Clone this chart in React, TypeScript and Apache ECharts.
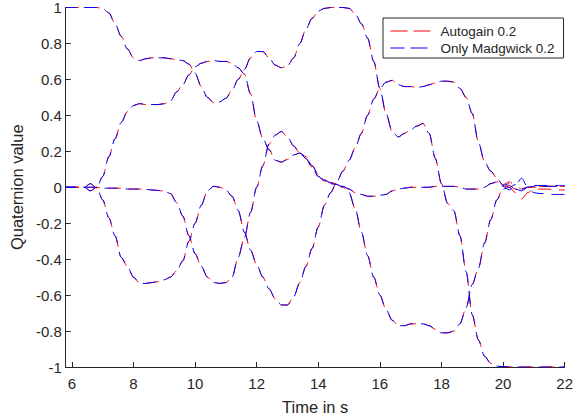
import React, { useEffect, useRef } from 'react';
import * as echarts from 'echarts';

// sample times (s), shared part and tail part
const timeHead = [
  5.8, 6.0, 6.2, 6.4, 6.6, 6.8, 7.0, 7.2, 7.4, 7.6,
  7.8, 8.0, 8.2, 8.4, 8.6, 8.8, 9.0, 9.2, 9.4, 9.6,
  9.8, 10.0, 10.2, 10.4, 10.6, 10.8, 11.0, 11.2, 11.4, 11.6,
  11.8, 12.0, 12.2, 12.4, 12.6, 12.8, 13.0, 13.2, 13.4, 13.6,
  13.8, 14.0, 14.2, 14.4, 14.6, 14.8, 15.0, 15.2, 15.4, 15.6,
  15.8, 16.0, 16.2, 16.4, 16.6, 16.8, 17.0, 17.2, 17.4, 17.6,
  17.8, 18.0, 18.2, 18.4, 18.6, 18.8, 19.0, 19.2, 19.4, 19.6,
];
const timeTail = [19.8, 20.0, 20.2, 20.4, 20.6, 20.8, 21.0, 21.2, 21.4, 21.6, 21.8, 22.0];

// quaternion components (common part of both filters)
const qA = [
  1, 1, 1, 1, 1, 1, 0.995, 0.97, 0.91, 0.84,
  0.77, 0.72, 0.705, 0.715, 0.72, 0.72, 0.72, 0.715, 0.71, 0.705,
  0.685, 0.635, 0.56, 0.5, 0.47, 0.475, 0.495, 0.54, 0.6, 0.655,
  0.72, 0.755, 0.755, 0.72, 0.68, 0.665, 0.675, 0.72, 0.8, 0.88,
  0.94, 0.98, 0.995, 1, 1, 1, 0.995, 0.965, 0.91, 0.83,
  0.7, 0.55, 0.41, 0.31, 0.28, 0.3, 0.32, 0.34, 0.355, 0.3,
  0.16, 0.02, -0.09, -0.13, -0.27, -0.47, -0.71, -0.85, -0.94, -0.98,
];
const qB = [
  0, 0, 0, 0, 0.02, -0.005, 0.06, 0.17, 0.27, 0.36,
  0.42, 0.455, 0.465, 0.46, 0.46, 0.46, 0.465, 0.48, 0.53, 0.57,
  0.625, 0.67, 0.69, 0.7, 0.705, 0.7, 0.7, 0.69, 0.665, 0.63,
  0.52, 0.37, 0.27, 0.21, 0.15, 0.14, 0.155, 0.18, 0.19, 0.17,
  0.12, 0.07, 0.04, 0.025, 0.02, 0.005, -0.01, -0.03, -0.04, -0.05,
  -0.05, -0.045, -0.04, -0.02, -0.01, -0.005, 0, 0, 0, 0,
  0.005, 0.005, 0.005, 0.005, 0, -0.01, -0.01, -0.01, 0, 0.02,
];
const qC = [
  0, 0, 0, 0, -0.02, 0, -0.07, -0.17, -0.27, -0.39,
  -0.44, -0.5, -0.535, -0.535, -0.53, -0.525, -0.515, -0.5, -0.465, -0.41,
  -0.3, -0.2, -0.1, -0.02, 0.005, 0, -0.015, -0.05, -0.13, -0.25,
  -0.35, -0.43, -0.5, -0.565, -0.62, -0.655, -0.655, -0.61, -0.53, -0.44,
  -0.34, -0.22, -0.1, -0.03, 0.03, 0.09, 0.15, 0.22, 0.3, 0.4,
  0.49, 0.55, 0.585, 0.595, 0.57, 0.56, 0.56, 0.555, 0.56, 0.57,
  0.58, 0.59, 0.59, 0.585, 0.55, 0.5, 0.41, 0.25, 0.14, 0.09,
];
const qD = [
  0, 0, 0, 0, 0, 0, -0.005, -0.005, -0.005, -0.005,
  -0.01, -0.01, -0.01, -0.012, -0.015, -0.018, -0.022, -0.035, -0.085, -0.16,
  -0.27, -0.37, -0.44, -0.5, -0.53, -0.535, -0.53, -0.5, -0.39, -0.28,
  -0.14, 0, 0.12, 0.24, 0.29, 0.31, 0.28, 0.23, 0.19, 0.16,
  0.11, 0.06, 0.035, 0.02, 0.015, 0, -0.03, -0.12, -0.25, -0.38,
  -0.5, -0.6, -0.68, -0.74, -0.77, -0.77, -0.76, -0.76, -0.76, -0.77,
  -0.79, -0.81, -0.81, -0.8, -0.76, -0.67, -0.54, -0.45, -0.31, -0.18,
];

// tails where the two filters differ
const aTailRed = [-0.995, -0.998, -1, -1, -1, -1, -1, -1, -1, -1, -1, -1];
const aTailBlue = [-0.995, -0.998, -1, -1, -1, -1, -1, -1, -1, -1, -1, -1];
const bTailRed = [0.03, 0.02, 0, -0.03, -0.065, -0.03, -0.01, -0.01, -0.01, -0.012, -0.015, -0.015];
const bTailBlue = [0.03, 0.005, -0.015, 0.01, 0.05, 0, -0.03, -0.035, -0.035, -0.04, -0.04, -0.04];
const cTailRed = [0.05, 0.015, 0.03, 0.01, -0.01, 0, 0.005, 0.005, 0.005, 0.005, 0.005, 0.005];
const cTailBlue = [0.05, 0.01, 0.02, -0.01, -0.02, 0, 0.01, 0.01, 0.01, 0.01, 0.01, 0.01];
const dTailRed = [-0.07, 0, 0.01, -0.01, -0.02, 0, 0, 0.005, 0.005, 0.005, 0.005, 0.005];
const dTailBlue = [-0.07, -0.01, 0, 0.015, -0.01, 0, 0.005, 0.005, 0.005, 0.005, 0.005, 0.005];

const xTicks = [6, 8, 10, 12, 14, 16, 18, 20, 22];
const seriesNames = ['Autogain 0.2', 'Only Madgwick 0.2'];

const TEXT = '#262626';
const FONT = '"Liberation Sans", Arial, Helvetica, sans-serif';

function toPairs(head: number[], tail: number[]) {
  const times = timeHead.concat(timeTail);
  const vals = head.concat(tail);
  return times.map((t, i) => [t, vals[i]]);
}

export default function App() {
  const ref = useRef<HTMLDivElement>(null);
  useEffect(() => {
    if (!ref.current) return;
    const chart = echarts.init(ref.current, undefined, { renderer: 'svg' });
    const mk = (name: string, color: string, data: number[][], offset: number) => ({
      type: 'line',
      name,
      data,
      symbol: 'none',
      smooth: 0.3,
      smoothMonotone: 'x',
      silent: true,
      itemStyle: { color },
      lineStyle: { color, width: 1, type: [13, 8], dashOffset: offset },
    });
    const red = '#ff0000';
    const blue = '#0000ff';
    const series = [
      mk(seriesNames[0], red, toPairs(qA, aTailRed), 0),
      mk(seriesNames[0], red, toPairs(qB, bTailRed), 0),
      mk(seriesNames[0], red, toPairs(qC, cTailRed), 0),
      mk(seriesNames[0], red, toPairs(qD, dTailRed), 0),
      mk(seriesNames[1], blue, toPairs(qA, aTailBlue), 3),
      mk(seriesNames[1], blue, toPairs(qB, bTailBlue), 3),
      mk(seriesNames[1], blue, toPairs(qC, cTailBlue), 3),
      mk(seriesNames[1], blue, toPairs(qD, dTailBlue), 3),
    ];
    chart.setOption({
      animation: false,
      textStyle: { fontFamily: FONT },
      grid: { left: 63, right: 7, top: 7, bottom: 52, containLabel: false },
      xAxis: {
        type: 'value',
        min: 5.8,
        max: 22,
        name: 'Time in s',
        nameLocation: 'middle',
        nameGap: 31,
        nameTextStyle: { fontSize: 16.5, color: TEXT, fontFamily: FONT },
        axisLine: { show: true, onZero: false, lineStyle: { color: TEXT, width: 1 } },
        axisTick: { show: true, inside: true, length: 5, customValues: xTicks, lineStyle: { color: TEXT } },
        axisLabel: { customValues: xTicks, fontSize: 15, color: TEXT, margin: 9, fontFamily: FONT },
        splitLine: { show: false },
      },
      yAxis: {
        type: 'value',
        min: -1,
        max: 1,
        interval: 0.2,
        name: 'Quaternion value',
        nameLocation: 'middle',
        nameRotate: 90,
        nameGap: 40,
        nameTextStyle: { fontSize: 16.5, color: TEXT, fontFamily: FONT },
        axisLine: { show: true, onZero: false, lineStyle: { color: TEXT, width: 1 } },
        axisTick: { show: true, inside: true, length: 5, lineStyle: { color: TEXT } },
        axisLabel: {
          fontSize: 15,
          color: TEXT,
          margin: 4,
          fontFamily: FONT,
          formatter: (v: number) => String(Math.round(v * 10) / 10),
        },
        splitLine: { show: false },
      },
      legend: {
        data: seriesNames,
        orient: 'vertical',
        left: 383,
        top: 18,
        itemWidth: 40,
        itemHeight: 14,
        itemGap: 3,
        padding: [6, 9, 3, 7],
        borderColor: TEXT,
        borderWidth: 1,
        backgroundColor: '#ffffff',
        textStyle: { fontSize: 13.5, color: TEXT, fontFamily: FONT, padding: [0, 0, 0, 5] },
        itemStyle: { opacity: 0, color: 'rgba(0,0,0,0)', borderWidth: 0 },
        lineStyle: { type: [17, 6], width: 1 },
      },
      series,
    });
    return () => chart.dispose();
  }, []);
  return (
    <div
      ref={ref}
      style={{ position: 'fixed', left: 0, top: 0, width: 576, height: 420, background: '#fff' }}
    />
  );
}
